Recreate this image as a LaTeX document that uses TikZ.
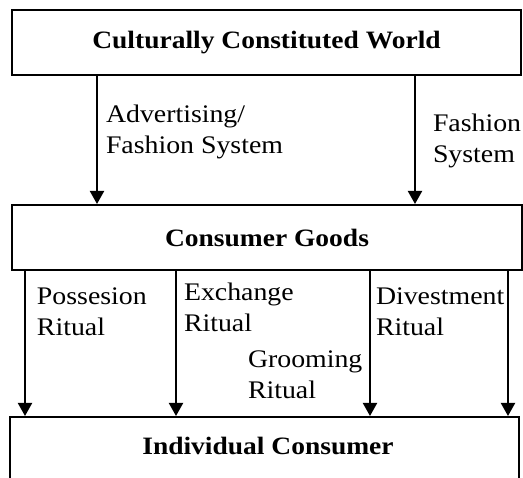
\documentclass[tikz,border=0pt]{standalone}
\usepackage{fontspec}
\setmainfont{Liberation Serif}[FakeStretch=1.1]
\usepackage{tikz}
\usetikzlibrary{arrows.meta}
\usetikzlibrary{positioning}

\begin{document}
\begin{tikzpicture}[x=1pt,y=-1pt,line width=2pt,
  box/.style={draw,rectangle,minimum height=65pt,inner sep=0pt,font=\fontsize{25}{30}\selectfont\bfseries},
  lab/.style={align=left,anchor=base west,inner sep=0pt,font=\fontsize{25.3}{30.5}\selectfont},
  arr/.style={-{Triangle[width=14pt,length=13pt]}}]
  \useasboundingbox (0,0) rectangle (523,478);
  \clip (0,0) rectangle (523,478);

  \node[box,minimum width=509pt] (world) at (266.5,42.5){Culturally Constituted World};
  \node[box,minimum width=510pt] (goods) at (267,237.5){Consumer Goods};
  \node[box,minimum width=509pt,minimum height=100pt] (indiv) at (264.5,467){};
  \node[inner sep=0pt,anchor=base,font=\fontsize{25}{30}\selectfont\bfseries] (indivtxt) at (268,455){Individual Consumer};

  % top arrows
  \draw[arr](world.south-|97,0)--(goods.north-|97,0);
  \draw[arr](world.south-|415,0)--(goods.north-|415,0);
  \node[lab] (adv) at (105,153.5){Advertising/\\Fashion System};
  \node[lab] (fash) at (432,162.5){Fashion\\System};

  % bottom arrows
  \draw[arr](goods.south-|25,0)--(indiv.north-|25,0);
  \draw[arr](goods.south-|176,0)--(indiv.north-|176,0);
  \draw[arr](goods.south-|370,0)--(indiv.north-|370,0);
  \draw[arr](goods.south-|508,0)--(indiv.north-|508,0);
  \node[lab] (poss) at (36,335.5){Possesion\\Ritual};
  \node[lab] (exch) at (183,331.5){Exchange\\Ritual};
  \node[lab] (groom) at (247,398.5){Grooming\\Ritual};
  \node[lab] (dive) at (375,335.5){Divestment\\Ritual};
\end{tikzpicture}
\end{document}
